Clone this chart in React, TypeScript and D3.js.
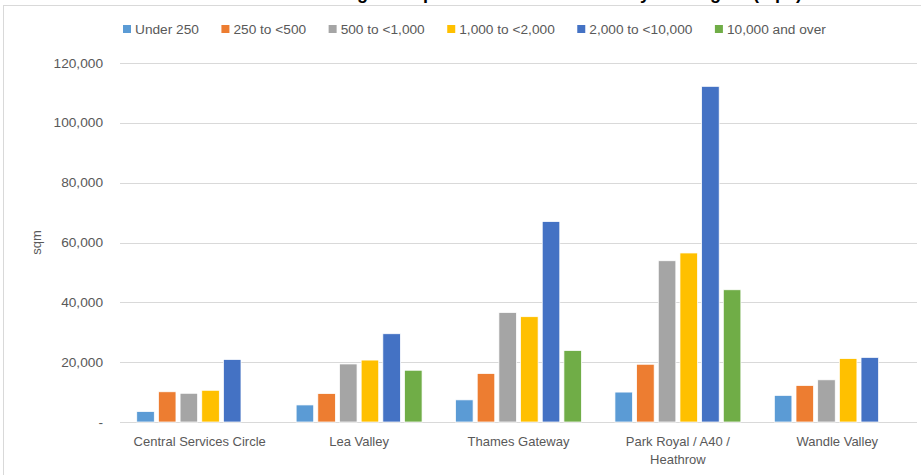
import React, { useEffect, useRef } from 'react';
import * as d3 from 'd3';

// Data (sqm)
const categories = [
  'Central Services Circle',
  'Lea Valley',
  'Thames Gateway',
  'Park Royal / A40 / Heathrow',
  'Wandle Valley',
];
const seriesNames = [
  'Under 250',
  '250 to <500',
  '500 to <1,000',
  '1,000 to <2,000',
  '2,000 to <10,000',
  '10,000 and over',
];
const under250 = [3500, 5700, 7400, 10000, 8900];
const from250to500 = [10100, 9500, 16200, 19300, 12200];
const from500to1000 = [9600, 19400, 36600, 53900, 14100];
const from1000to2000 = [10600, 20700, 35200, 56500, 21200];
const from2000to10000 = [20900, 29500, 67000, 112200, 21600];
const over10000 = [0, 17300, 23900, 44200, 0];
const yTicks = [0, 20000, 40000, 60000, 80000, 100000, 120000];
const colors = ['#5B9BD5', '#ED7D31', '#A5A5A5', '#FFC000', '#4472C4', '#70AD47'];

const title = 'Existing floorspace of industrial stock by sub-region (sqm)';

const FONT = "'Liberation Sans', Arial, sans-serif";

const App: React.FC = () => {
  const svgRef = useRef<SVGSVGElement>(null);
  const width = 921;
  const height = 475;

  useEffect(() => {
    if (!svgRef.current) return;
    const svg = d3.select(svgRef.current);
    svg.selectAll('*').remove();

    const values = [under250, from250to500, from500to1000, from1000to2000, from2000to10000, over10000];
    const margin = { top: 63, right: 4, bottom: 53, left: 120 };
    const innerW = width - margin.left - margin.right;
    const innerH = height - margin.top - margin.bottom;

    // chart frame (cropped on the right / bottom like the original)
    svg
      .append('rect')
      .attr('x', 3.5)
      .attr('y', 5.5)
      .attr('width', width + 20)
      .attr('height', height + 20)
      .attr('fill', '#fff')
      .attr('stroke', '#d9d9d9');

    // title, sits above the visible area - only descenders show
    svg
      .append('text')
      .attr('x', 298)
      .attr('y', -1)
      .text(title)
      .style('font-family', FONT)
      .style('font-size', '18px')
      .style('font-weight', 'bold')
      .style('fill', '#000');

    const g = svg.append('g').attr('transform', `translate(${margin.left},${margin.top})`);

    const x0 = d3.scaleBand<string>().domain(categories).range([0, innerW]).paddingInner(0.21).paddingOuter(0.105);
    const x1 = d3
      .scaleBand<number>()
      .domain(d3.range(seriesNames.length))
      .range([0, x0.bandwidth()])
      .paddingInner(0.19);
    const y = d3.scaleLinear().domain([0, 120000]).range([innerH, 0]);

    // gridlines
    g.selectAll('line.grid')
      .data(yTicks)
      .enter()
      .append('line')
      .attr('class', 'grid')
      .attr('x1', 0)
      .attr('x2', innerW)
      .attr('y1', (d) => Math.round(y(d)) + 0.5)
      .attr('y2', (d) => Math.round(y(d)) + 0.5)
      .style('stroke', '#d9d9d9')
      .style('stroke-width', 1);

    // y tick labels
    const fmt = d3.format(',');
    g.selectAll('text.ytick')
      .data(yTicks)
      .enter()
      .append('text')
      .attr('class', 'ytick')
      .attr('x', -17)
      .attr('y', (d) => y(d) + 4.5)
      .attr('text-anchor', 'end')
      .text((d) => (d === 0 ? '-' : fmt(d)))
      .style('font-family', FONT)
      .style('font-size', '13.7px')
      .style('fill', '#595959');

    // bars
    const groups = g
      .selectAll('g.cat')
      .data(categories)
      .enter()
      .append('g')
      .attr('class', 'cat')
      .attr('transform', (d) => `translate(${x0(d)},0)`);

    groups
      .selectAll('rect')
      .data((_, ci) => values.map((s, si) => ({ si, v: s[ci] })))
      .enter()
      .filter((d) => d.v > 0)
      .append('rect')
      .attr('x', (d) => x1(d.si)!)
      .attr('y', (d) => y(d.v))
      .attr('width', x1.bandwidth())
      .attr('height', (d) => y(0) - y(d.v))
      .style('fill', (d) => colors[d.si])
      .style('stroke', '#fff')
      .style('stroke-width', 0.75);

    // category labels, wrapped like Excel
    groups
      .append('text')
      .attr('x', x0.bandwidth() / 2)
      .attr('y', innerH + 24)
      .attr('text-anchor', 'middle')
      .text((d) => d)
      .style('font-family', FONT)
      .style('font-size', '13px')
      .style('fill', '#595959')
      .call(wrap, 150);

    // y axis title
    svg
      .append('text')
      .attr('transform', `translate(41,${margin.top + innerH / 2}) rotate(-90)`)
      .attr('text-anchor', 'middle')
      .text('sqm')
      .style('font-family', FONT)
      .style('font-size', '13px')
      .style('fill', '#595959');

    // legend
    const legend = svg.append('g').attr('transform', 'translate(123,0)');
    let lx = 0;
    seriesNames.forEach((name, i) => {
      const item = legend.append('g').attr('transform', `translate(${lx},0)`);
      item.append('rect').attr('x', 0).attr('y', 25).attr('width', 8).attr('height', 8).style('fill', colors[i]);
      const t = item
        .append('text')
        .attr('x', 12)
        .attr('y', 34)
        .text(name)
        .style('font-family', FONT)
        .style('font-size', '13.7px')
        .style('fill', '#595959');
      const w = (t.node() as SVGTextElement).getComputedTextLength();
      lx += 12 + w + 22.5;
    });

    function wrap(text: any, maxW: number) {
      text.each(function (this: any) {
        const self = d3.select(this);
        const words = self.text().split(/\s+/);
        const xPos = self.attr('x');
        const yPos = +self.attr('y');
        self.text(null);
        let line: string[] = [];
        let lineNo = 0;
        let tspan = self.append('tspan').attr('x', xPos).attr('y', yPos);
        words.forEach((word: string) => {
          line.push(word);
          tspan.text(line.join(' '));
          if ((tspan.node() as SVGTSpanElement).getComputedTextLength() > maxW && line.length > 1) {
            line.pop();
            tspan.text(line.join(' '));
            line = [word];
            lineNo += 1;
            tspan = self
              .append('tspan')
              .attr('x', xPos)
              .attr('y', yPos + lineNo * 18)
              .text(word);
          }
        });
      });
    }
  }, []);

  return (
    <svg
      ref={svgRef}
      width={width}
      height={height}
      style={{ position: 'absolute', left: 0, top: 0, background: '#fff' }}
    ></svg>
  );
};

export default App;
